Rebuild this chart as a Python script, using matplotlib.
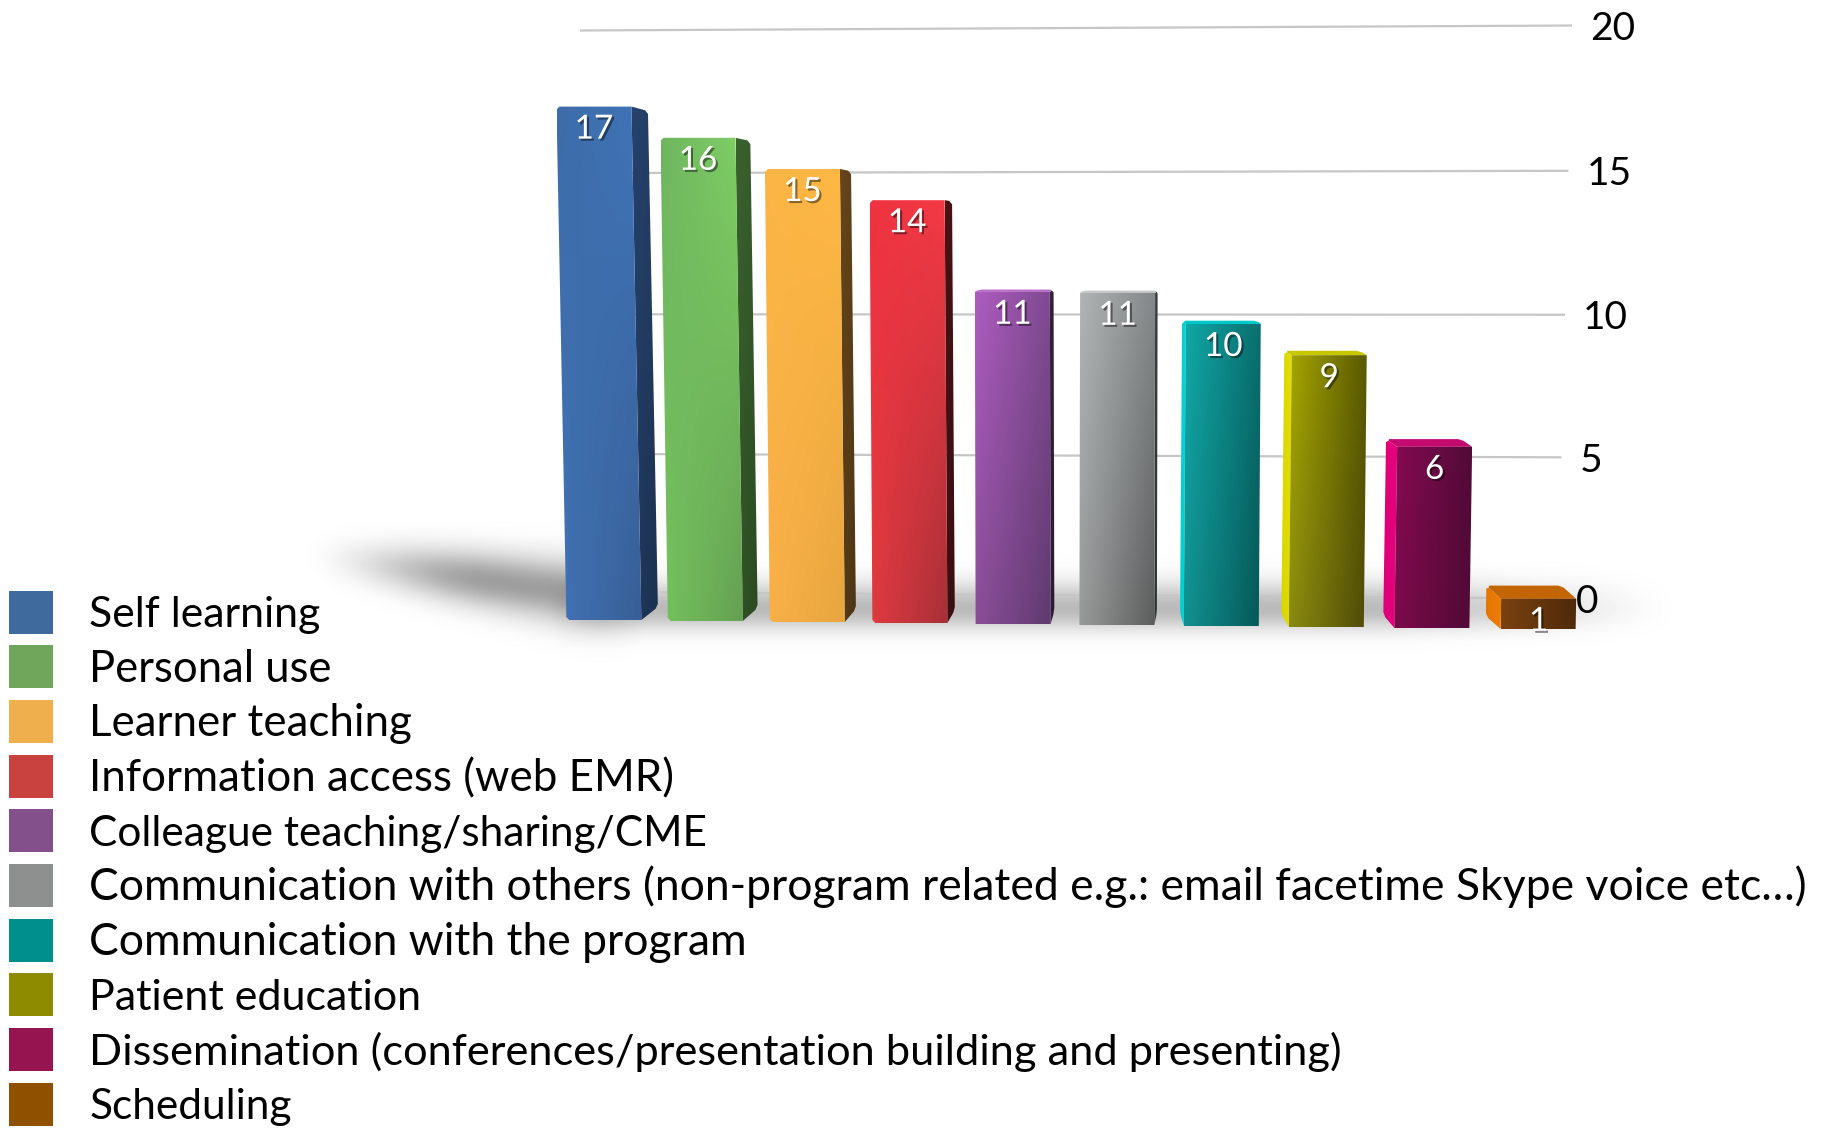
import numpy as np
import matplotlib
matplotlib.use("Agg")
import matplotlib.pyplot as plt
import matplotlib.patheffects as pe
from matplotlib.patches import Polygon, Rectangle

# ---------- data ----------
categories = ["Self learning", "Personal use", "Learner teaching",
              "Information access (web EMR)", "Colleague teaching/sharing/CME",
              "Communication with others (non-program related e.g.: email facetime Skype voice etc…)",
              "Communication with the program", "Patient education",
              "Dissemination (conferences/presentation building and presenting)",
              "Scheduling"]
values = [17, 16, 15, 14, 11, 11, 10, 9, 6, 1]
axis_ticks = [0, 5, 10, 15, 20]

# ---------- styles ----------
legend_colors = ["#3E6A9E", "#6FA65B", "#EEAF4C", "#C9423F", "#83508C",
                 "#8E8F8F", "#008F8C", "#8E8B00", "#96144F", "#8F5000"]
legend_sizes = [30.8, 31.4, 31.6, 31.6, 30.5, 32, 32, 31, 31.2, 30.5]
# front face corners: top-left, top-right, bottom-left, bottom-right
front_colors = [("#3D6CA8", "#4074B8", "#4273B5", "#385F96"),
                ("#6FB55F", "#80D065", "#75C25E", "#64A052"),
                ("#FBB545", "#FFB845", "#F9B048", "#E8A63F"),
                ("#EF3340", "#F23A45", "#E03A40", "#A83038"),
                ("#AD5CC0", "#7F4A90", "#8A4E98", "#603A70"),
                ("#B0B4B4", "#85888A", "#999B9B", "#5C5E5E"),
                ("#10A8A8", "#0A6E6E", "#129090", "#065858"),
                ("#A6A600", "#5A5A00", "#8A8A10", "#4F4A08"),
                ("#860A52", "#520A38", "#7C0A4A", "#4F0A35"),
                ("#7A4210", "#4F2A0A", "#7A4210", "#4F2A0A")]
side_colors = ["#26426C", "#3A622E", "#66461B", "#4A1216", "#38203F",
               "#3C4040", "#00D8D8", "#E4E000", "#E8007E", "#F07C05"]
top_colors = ["#4A80C4", "#8ADC70", "#FFC850", "#FF4650", "#B866C8",
              "#C4C8C8", "#00C8C8", "#C8C800", "#C4096F", "#C46505"]
TEXT_FONT = "Lato"

W, H = 1825, 1128
PX_X, PX_Y = 103.5, 30.2   # pixels per category / per value unit
X0, Y0 = 602.5, 620.0      # pixel of category 0 / of value 0

fig = plt.figure(figsize=(W / 100, H / 100), dpi=100, facecolor="white")

# ---------- backdrop layer in pixel coordinates ----------
bg = fig.add_axes([0, 0, 1, 1], zorder=0)
bg.set_xlim(0, W); bg.set_ylim(H, 0); bg.axis("off")


def sstep(a, b, x):
    t = np.clip((x - a) / (b - a), 0, 1)
    return t * t * (3 - 2 * t)


xx, yy = np.meshgrid(np.arange(W), np.arange(H))
yc = 579 + 0.14 * (xx - 480)
sg = 14 + 0.03 * (xx - 300)
wedge = 0.38 * np.exp(-0.5 * ((yy - yc) / sg) ** 2) * sstep(295, 490, xx) * (1 - sstep(560, 650, xx))
dy = yy - 608.0
floor = 0.27 * np.exp(-0.5 * (dy / np.where(dy < 0, 18, 15)) ** 2) * sstep(540, 640, xx) * (1 - 0.75 * sstep(1350, 1640, xx))
floor *= (1 - sstep(1560, 1690, xx))
shade = np.clip(1 - wedge - floor, 0, 1)
bg.imshow(shade, cmap="gray", vmin=0, vmax=1, extent=[0, W, H, 0], aspect="auto", zorder=0)
bg.set_xlim(0, W); bg.set_ylim(H, 0)


def grid_y(v):
    return 598.5 - 28.1 * v - 0.0275 * v * v


for v in axis_ticks:
    yr = grid_y(v)
    yl = yr - 6 + 0.55 * v
    xr = 1558 + 0.7 * v
    bg.plot([660 - 4 * v, xr], [yl, yr], color="#C6C6C6", lw=1.6, zorder=1, solid_capstyle="butt")
    bg.text(xr + 18, yr + 14.5, str(v), fontsize=28, family=TEXT_FONT,
            color="black", ha="left", va="baseline", zorder=2)

for i, (name, col, fs) in enumerate(zip(categories, legend_colors, legend_sizes)):
    cy = 612 + 54.7 * i
    bg.add_patch(Rectangle((9.5, cy - 21.5), 43.5, 43, facecolor=col, edgecolor="none", zorder=3))
    bg.text(89.5, cy + 15, name, fontsize=fs, family=TEXT_FONT, color="black",
            ha="left", va="baseline", zorder=3)

# ---------- bars: x = category index, y = value ----------
ax = fig.add_axes([0, 0, 1, 1], zorder=2)
ax.patch.set_alpha(0)
ax.set_xlim(-X0 / PX_X, (W - X0) / PX_X)
ax.set_ylim(-(H - Y0) / PX_Y, Y0 / PX_Y)
ax.axis("off")

HALF = 37.5 / PX_X


def slot(i):
    """Bar centre along the curved floor of the perspective view."""
    return i + (0.3 * (i - 4) ** 2 - 3.4) / PX_X


def lean(i, v):
    return 0.13 * (i - 4.5) * v / PX_X


def chamfer(poly, corners, d):
    """Cut the listed corners by d pixels so that the boxes look soft-edged."""
    pts = np.asarray(poly, dtype=float) * [PX_X, PX_Y]
    out = []
    n = len(pts)
    for k in range(n):
        if k in corners:
            p = pts[k]
            for q in (pts[k - 1], pts[(k + 1) % n]):
                e = q - p
                out.append(p + e / np.hypot(*e) * min(d, 0.45 * np.hypot(*e)))
        else:
            out.append(pts[k])
    return np.array(out) / [PX_X, PX_Y]


def gradient_face(poly, tl, tr, bl, br, z):
    poly = np.asarray(poly)
    n = 48
    u, w = np.meshgrid(np.linspace(0, 1, n), np.linspace(0, 1, n))
    c = [np.array(matplotlib.colors.to_rgb(k)) for k in (tl, tr, bl, br)]
    img = np.zeros((n, n, 3))
    for ch in range(3):
        img[..., ch] = ((1 - u) * (1 - w) * c[0][ch] + u * (1 - w) * c[1][ch]
                        + (1 - u) * w * c[2][ch] + u * w * c[3][ch])
    x0, x1, y0, y1 = poly[:, 0].min(), poly[:, 0].max(), poly[:, 1].min(), poly[:, 1].max()
    im = ax.imshow(img, extent=[x0, x1, y0, y1], origin="upper", aspect="auto",
                   interpolation="bilinear", zorder=z)
    im.set_clip_path(Polygon(poly, closed=True, transform=ax.transData))


def scaled(col, f):
    return tuple(min(1, k * f) for k in matplotlib.colors.to_rgb(col))


for i, v in enumerate(values):
    base = -i * 1.0 / PX_Y
    top = base + v
    z = 5 + i
    c = slot(i)
    xbl, xbr = c - HALF, c + HALF
    xtl, xtr = xbl + lean(i, v), xbr + lean(i, v)
    depth = (3.7 * (5 - i) - (2 if i == 0 else 0) if i != 5 else 2.5) / PX_X   # sideways shift of the back edge
    rise_t = 1.1 * (13 - v) / PX_Y                      # upward shift of the back edge, top
    rise_b = 1.0 * 13 / PX_Y                            # upward shift of the back edge, bottom

    # side face
    edge_x_t, edge_x_b = (xtr, xbr) if depth >= 0 else (xtl, xbl)
    side = [(edge_x_t, top), (edge_x_t + depth, top + rise_t),
            (edge_x_b + depth, base + rise_b), (edge_x_b, base)]
    side = chamfer(side, (1, 2), 3)
    sc = side_colors[i]
    if depth > 0:
        gradient_face(side, sc, scaled(sc, 0.92), scaled(sc, 0.85), scaled(sc, 0.75), z)
    else:
        gradient_face(side, scaled(sc, 0.95), sc, scaled(sc, 0.95), sc, z)

    # top face (only seen on bars below the eye line)
    if v < 13:
        tp = chamfer([(xtl, top), (xtr, top), (xtr + depth, top + rise_t),
                      (xtl + depth, top + rise_t)], (2, 3), 3)
        ax.add_patch(Polygon(tp, closed=True, facecolor=top_colors[i],
                             edgecolor="none", zorder=z))

    # front face
    outer = (0, 3) if depth > 0 else (1, 2)
    front = chamfer([(xtl, top), (xtr, top), (xbr, base), (xbl, base)],
                    outer if v >= 13 else (), 3)
    gradient_face(front, *front_colors[i], z + 0.2)

    # value label
    ax.text(c + lean(i, v), top - 23 / PX_Y, str(v), fontsize=24, family=TEXT_FONT,
            color="white", ha="center", va="center", zorder=30,
            path_effects=[pe.withSimplePatchShadow(offset=(1.5, -1.5), shadow_rgbFace="black", alpha=0.45)])

ax.set_xlim(-X0 / PX_X, (W - X0) / PX_X)
ax.set_ylim(-(H - Y0) / PX_Y, Y0 / PX_Y)

fig.savefig("out.png", dpi=100, facecolor="white")
